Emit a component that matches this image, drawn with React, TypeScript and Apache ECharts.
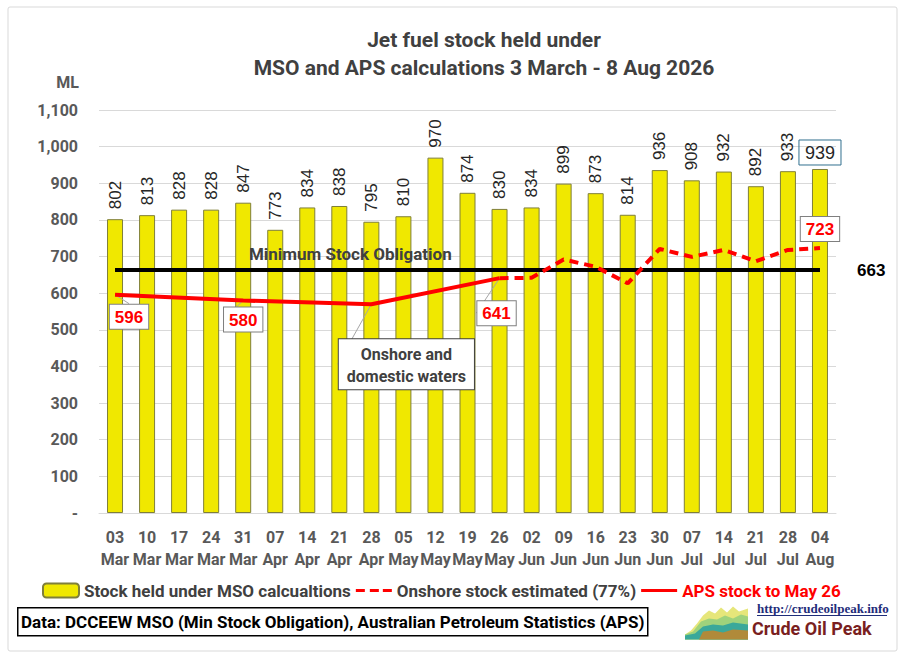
import { useRef, useEffect } from "react";
import * as echarts from "echarts";
import type { EChartsOption } from "echarts";

const categories = [
  "03 Mar", "10 Mar", "17 Mar", "24 Mar", "31 Mar", "07 Apr", "14 Apr", "21 Apr",
  "28 Apr", "05 May", "12 May", "19 May", "26 May", "02 Jun", "09 Jun", "16 Jun",
  "23 Jun", "30 Jun", "07 Jul", "14 Jul", "21 Jul", "28 Jul", "04 Aug",
];
const msoStock = [802, 813, 828, 828, 847, 773, 834, 838, 795, 810, 970, 874, 830, 834, 899, 873, 814, 936, 908, 932, 892, 933, 939];
const apsStock = [596, null, null, null, 580, null, null, null, 570, null, null, null, 641, null, null, null, null, null, null, null, null, null, null];
const onshoreEstimate = [null, null, null, null, null, null, null, null, null, null, null, null, 641, 642, 692, 672, 627, 721, 699, 718, 687, 718, 723];
const minStockObligation = 663;

const SERIES_MSO = "Stock held under MSO calcualtions";
const SERIES_ONSHORE = "Onshore stock estimated (77%)";
const SERIES_APS = "APS stock to May 26";

const FONT = "Roboto, 'Noto Sans', sans-serif";
const NUM_FONT = "'Liberation Sans', Arial, sans-serif";
const GREY = "#404040";
const RED = "#ff0000";

// label nudges for the APS points (pixels)
const apsLabelShift: Record<number, [number, number]> = {
  0: [14, 5],
  4: [0, 2],
  8: [35, 30],
  12: [-3, 18],
};

// legend icons: 36x14 box with a 3px bar in the middle
const SOLID_ICON = "path://M0,0L0.01,0L0,0.01Z M0,14L0.01,14L0,13.99Z M0,5.5L36,5.5L36,8.5L0,8.5Z";
const DASH_ICON =
  "path://M0,0L0.01,0L0,0.01Z M0,14L0.01,14L0,13.99Z M0,5.5L9,5.5L9,8.5L0,8.5Z M14,5.5L23,5.5L23,8.5L14,8.5Z M27,5.5L36,5.5L36,8.5L27,8.5Z";

export default function App() {
  const chartRef = useRef<HTMLDivElement>(null);

  useEffect(() => {
    if (!chartRef.current) return;
    const chart = echarts.init(chartRef.current, null, { renderer: "svg" });

    const boxLabel = {
      show: true,
      fontFamily: NUM_FONT,
      fontSize: 17,
      fontWeight: "bold" as const,
      color: RED,
      backgroundColor: "#fff",
      borderColor: "#7f7f7f",
      borderWidth: 1,
      padding: [4, 5, 3, 5],
    };

    const option: EChartsOption = {
      animation: false,
      backgroundColor: "#fff",
      title: {
        text: "Jet fuel stock held under\nMSO and APS calculations 3 March - 8 Aug 2026",
        left: 479,
        top: 21,
        textAlign: "center",
        textStyle: { fontFamily: FONT, fontSize: 21, fontWeight: "bold", color: GREY, lineHeight: 28 },
      },
      grid: { left: 99, right: 68, top: 110, bottom: 143 },
      legend: {
        left: 37,
        top: 577,
        itemWidth: 36,
        itemHeight: 14,
        itemGap: 5,
        textStyle: { fontFamily: FONT, fontSize: 17, fontWeight: "bold", color: GREY },
        data: [
          { name: SERIES_MSO },
          { name: SERIES_ONSHORE, icon: DASH_ICON, itemStyle: { color: RED, borderWidth: 0 } },
          { name: SERIES_APS, icon: SOLID_ICON, itemStyle: { color: RED, borderWidth: 0 }, textStyle: { color: RED } },
        ],
      },
      xAxis: {
        type: "category",
        data: categories,
        axisTick: { show: false },
        axisLine: { lineStyle: { color: "#d9d9d9" } },
        axisLabel: {
          interval: 0,
          formatter: (v: string) => v.replace(" ", "\n"),
          margin: 13,
          lineHeight: 22,
          fontFamily: FONT,
          fontSize: 16,
          fontWeight: "bold",
          color: "#595959",
        },
      },
      yAxis: {
        type: "value",
        min: 0,
        max: 1100,
        interval: 100,
        name: "ML",
        nameGap: 20,
        nameTextStyle: { align: "right", padding: [0, 20, 0, 0], fontFamily: FONT, fontSize: 16, fontWeight: "bold", color: "#595959" },
        splitLine: { lineStyle: { color: "#d9d9d9" } },
        axisLabel: {
          formatter: (v: number) => (v === 0 ? "-" : v.toLocaleString("en-US")),
          margin: 21,
          fontFamily: FONT,
          fontSize: 16,
          fontWeight: "bold",
          color: "#595959",
        },
      },
      series: [
        {
          name: SERIES_MSO,
          type: "bar",
          barWidth: 16,
          itemStyle: { color: "#f0e800", borderColor: "#7f7f3a", borderWidth: 1 },
          label: {
            show: true,
            position: "top",
            rotate: 90,
            align: "left",
            verticalAlign: "middle",
            distance: 10,
            fontFamily: NUM_FONT,
            fontSize: 17,
            color: "#262626",
          },
          data: msoStock.map((v, i) =>
            i === msoStock.length - 1
              ? {
                  value: v,
                  label: {
                    rotate: 0,
                    align: "center",
                    verticalAlign: "bottom",
                    distance: 4,
                    fontSize: 18,
                    borderColor: "#31708f",
                    borderWidth: 1,
                    padding: [4, 6, 3, 6],
                  },
                }
              : v
          ),
        },
        {
          name: "MSO",
          type: "line",
          symbol: "none",
          lineStyle: { color: "#000", width: 4 },
          endLabel: {
            show: true,
            distance: 37,
            formatter: "{c}",
            fontFamily: NUM_FONT,
            fontSize: 17,
            fontWeight: "bold",
            color: "#000",
          },
          data: categories.map(() => minStockObligation),
        },
        {
          name: SERIES_APS,
          type: "line",
          symbol: "none",
          connectNulls: true,
          itemStyle: { color: RED },
          lineStyle: { color: RED, width: 4 },
          data: apsStock,
        },
        {
          name: SERIES_ONSHORE,
          type: "line",
          symbol: "none",
          itemStyle: { color: RED },
          lineStyle: { color: RED, width: 4, type: [9, 6] },
          data: onshoreEstimate,
        },
        // label carriers (invisible points)
        {
          name: "MSO note",
          type: "scatter",
          symbolSize: 0,
          silent: true,
          itemStyle: { opacity: 1 },
          data: categories.map((_, i) =>
            i === 7
              ? {
                  value: minStockObligation,
                  label: {
                    show: true,
                    position: "top",
                    distance: 8,
                    offset: [11, 0],
                    formatter: "Minimum Stock Obligation",
                    fontFamily: FONT,
                    fontSize: 17,
                    fontWeight: "bold",
                    color: GREY,
                  },
                }
              : null
          ),
        },
        {
          name: "APS labels",
          type: "scatter",
          symbolSize: 0,
          silent: true,
          itemStyle: { opacity: 1 },
          labelLine: { show: true, lineStyle: { color: "#a6a6a6", width: 1 } },
          labelLayout: (p: any) => {
            const s = apsLabelShift[p.dataIndex];
            return s ? { dx: s[0], dy: s[1] } : {};
          },
          data: apsStock.map((v, i) =>
            v === null
              ? null
              : i === 8
              ? {
                  value: v,
                  label: {
                    ...boxLabel,
                    position: "bottom",
                    distance: 5,
                    formatter: "Onshore and\ndomestic waters",
                    fontFamily: FONT,
                    fontSize: 16,
                    lineHeight: 22,
                    color: GREY,
                    borderColor: "#404040",
                    padding: [4, 8, 2, 8],
                  },
                }
              : { value: v, label: { ...boxLabel, position: "bottom", distance: 5 } }
          ),
        },
        {
          name: "Onshore label",
          type: "scatter",
          symbolSize: 0,
          silent: true,
          itemStyle: { opacity: 1 },
          data: onshoreEstimate.map((v, i) =>
            i === onshoreEstimate.length - 1
              ? { value: v, label: { ...boxLabel, position: "top", distance: 7 } }
              : null
          ),
        },
      ],
      graphic: [
        {
          type: "rect",
          shape: { x: 8, y: 7, width: 889, height: 644, r: 2 },
          style: { fill: "none", stroke: "#d9d9d9", lineWidth: 1 },
          silent: true,
        },
        {
          type: "group",
          left: 17,
          top: 607,
          children: [
            {
              type: "rect",
              shape: { x: 0, y: 0, width: 630, height: 28 },
              style: { fill: "#fff", stroke: "#000", lineWidth: 1.5 },
            },
            {
              type: "text",
              x: 315,
              y: 14,
              style: {
                text: "Data: DCCEEW MSO (Min Stock Obligation), Australian Petroleum Statistics (APS)",
                fontFamily: FONT,
                fontSize: 17,
                fontWeight: "bold",
                fill: "#000",
                align: "center",
                verticalAlign: "middle",
              },
            },
          ],
        },
        {
          type: "group",
          left: 685,
          top: 602,
          children: [
            {
              type: "polygon",
              shape: { points: [[0, 31], [6, 27], [12, 20], [18, 12], [24, 7], [30, 10], [36, 4], [42, 9], [48, 3], [54, 8], [63, 5], [63, 36], [0, 36]] },
              style: { fill: "#e6e67a" },
            },
            {
              type: "polygon",
              shape: { points: [[0, 31], [8, 28], [16, 18], [24, 15], [32, 16], [40, 12], [48, 15], [56, 11], [63, 13], [63, 36], [0, 36]] },
              style: { fill: "#9fd27c" },
            },
            {
              type: "polygon",
              shape: { points: [[0, 32], [10, 30], [18, 23], [28, 21], [38, 22], [48, 19], [63, 21], [63, 36], [0, 36]] },
              style: { fill: "#3aa89a" },
            },
            {
              type: "polygon",
              shape: { points: [[14, 36], [18, 28], [28, 27], [38, 29], [48, 26], [63, 27], [63, 36]] },
              style: { fill: "#b08a3a" },
            },
            {
              type: "text",
              x: 72,
              y: 5,
              style: {
                text: "http://crudeoilpeak.info",
                fontFamily: "'Liberation Serif', serif",
                fontSize: 13,
                fontWeight: "bold",
                fill: "#1f2d7a",
                verticalAlign: "middle",
              },
            },
            {
              type: "line",
              shape: { x1: 72, y1: 12, x2: 202, y2: 12 },
              style: { stroke: "#1f2d7a", lineWidth: 1 },
            },
            {
              type: "text",
              x: 67,
              y: 25,
              style: {
                text: "Crude Oil Peak",
                fontFamily: FONT,
                fontSize: 18,
                fontWeight: "bold",
                fill: "#7a1f1f",
                verticalAlign: "middle",
              },
            },
          ],
        },
      ],
    };

    chart.setOption(option);
    return () => chart.dispose();
  }, []);

  return (
    <div style={{ position: "fixed", left: 0, top: 0, width: 904, height: 656, background: "#fff" }}>
      <div ref={chartRef} style={{ width: 904, height: 656 }} />
    </div>
  );
}
